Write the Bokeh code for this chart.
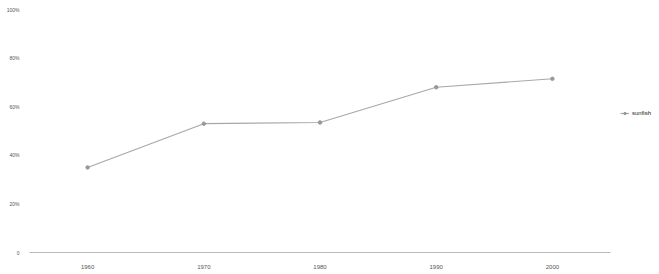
from bokeh.plotting import figure
from bokeh.models import Legend, LegendItem, FactorRange, Range1d, FixedTicker
from bokeh.embed import file_html
from bokeh.resources import INLINE

categories = ["1960", "1970", "1980", "1990", "2000"]
series_name = "sunfish"
values = [35, 53, 53.5, 68, 71.5]
y_ticks = [0, 20, 40, 60, 80, 100]
y_tick_labels = {0: "0", 20: "20%", 40: "40%", 60: "60%", 80: "80%", 100: "100%"}

p = figure(frame_width=581, frame_height=243, x_range=FactorRange(*categories),
           y_range=Range1d(0, 100), output_backend="svg", toolbar_location=None,
           min_border_left=29, min_border_right=0, min_border_top=9, min_border_bottom=0)
p.outline_line_color = None
p.xgrid.grid_line_color = None
p.ygrid.grid_line_color = None

r = p.line(categories, values, line_color="#a8a8a8", line_width=1.2)
m = p.scatter(categories, values, size=3.5, fill_color="#999999", line_color="#999999")

p.yaxis.ticker = FixedTicker(ticks=y_ticks)
p.yaxis.major_label_overrides = y_tick_labels
p.yaxis.axis_line_color = None
p.yaxis.major_tick_line_color = None
p.yaxis.minor_tick_line_color = None
p.yaxis.major_label_text_font_size = "5px"
p.yaxis.major_label_text_color = "#555555"
p.yaxis.major_label_standoff = 4

p.xaxis.axis_line_color = "#b8b8b8"
p.xaxis.major_tick_line_color = None
p.xaxis.minor_tick_line_color = None
p.xaxis.major_label_text_font_size = "6px"
p.xaxis.major_label_text_color = "#555555"
p.xaxis.major_label_standoff = 6

legend = Legend(items=[LegendItem(label=series_name, renderers=[r, m])],
                label_text_font_size="6px", label_text_color="#222222",
                border_line_color=None, background_fill_alpha=0,
                glyph_width=9, glyph_height=6, label_height=6, label_standoff=3,
                label_width=20, padding=1, spacing=0, margin=4, location=(10, 136))
p.add_layout(legend, "right")

open("out.html", "w").write(file_html(p, INLINE))
